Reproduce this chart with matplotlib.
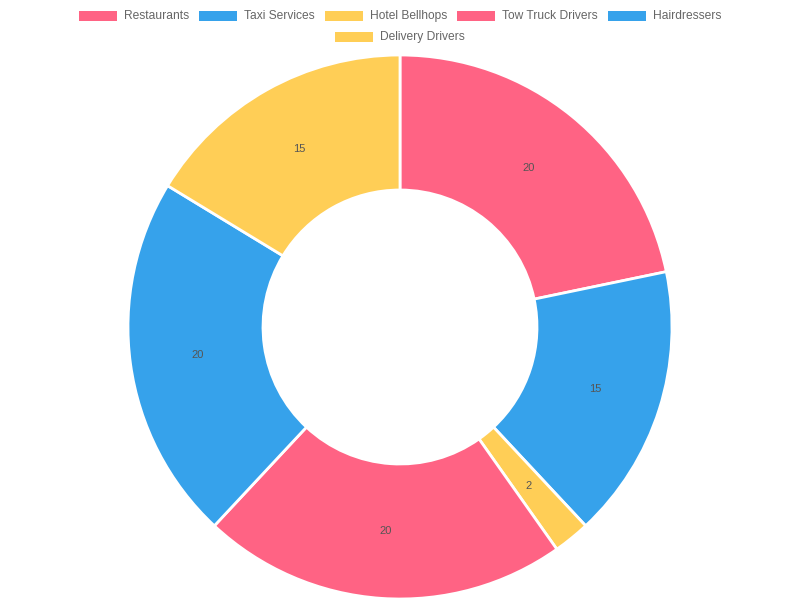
import matplotlib.pyplot as plt
import numpy as np

plt.rcParams['font.family'] = ['Liberation Sans', 'DejaVu Sans']

labels = ["Restaurants", "Taxi Services", "Hotel Bellhops",
          "Tow Truck Drivers", "Hairdressers", "Delivery Drivers"]
values = [20, 15, 2, 20, 20, 15]
colors = ["#FF6384", "#36A2EB", "#FFCE56", "#FF6384", "#36A2EB", "#FFCE56"]

W, H = 800, 600
fig = plt.figure(figsize=(8, 6), dpi=100)

# donut: center (400, 327) px, outer radius 272 px, inner 137 px
cx, cy, r_out = 400, 327, 272
ax = fig.add_axes([(cx - r_out) / W, (H - cy - r_out) / H, 2 * r_out / W, 2 * r_out / H])
inner = 137 / r_out
wedges, _ = ax.pie(values, colors=colors, startangle=90, counterclock=False,
                   radius=1, wedgeprops=dict(width=1 - inner, edgecolor="white", linewidth=2))
mid = (1 + inner) / 2
for w, v in zip(wedges, values):
    ang = np.deg2rad((w.theta1 + w.theta2) / 2)
    ax.text(mid * np.cos(ang), mid * np.sin(ang), str(v), ha="center", va="center",
            fontsize=8, color="#555555")
ax.set_xlim(-1, 1)
ax.set_ylim(-1, 1)
ax.set_aspect("equal")
ax.axis("off")

# legend rows centered, wrapped like chart.js
fs = 12 * 72 / 100
box_w, box_h, gap_txt, gap_item = 38, 10, 7, 10
max_row = W - 40
renderer = fig.canvas.get_renderer()
widths = []
for lab in labels:
    t = fig.text(0, 0, lab, fontsize=fs)
    widths.append(t.get_window_extent(renderer).width)
    t.remove()
items = [box_w + gap_txt + w for w in widths]

rows, cur, cur_w = [], [], 0
for i, iw in enumerate(items):
    if cur and cur_w + iw + gap_item > max_row:
        rows.append(cur)
        cur, cur_w = [], 0
    cur.append(i)
    cur_w += iw + gap_item
rows.append(cur)

row_y = [16, 37]
for r, row in enumerate(rows):
    total = sum(items[i] for i in row) + gap_item * (len(row) - 1)
    x = (W - total) / 2
    y = H - row_y[r]
    for i in row:
        fig.patches.append(plt.Rectangle((x / W, (y - box_h / 2) / H), box_w / W, box_h / H,
                                         transform=fig.transFigure, facecolor=colors[i],
                                         edgecolor="none"))
        fig.text((x + box_w + gap_txt) / W, y / H, labels[i], fontsize=fs,
                 color="#666666", va="center", ha="left")
        x += items[i] + gap_item

fig.savefig("out.png", dpi=100)
